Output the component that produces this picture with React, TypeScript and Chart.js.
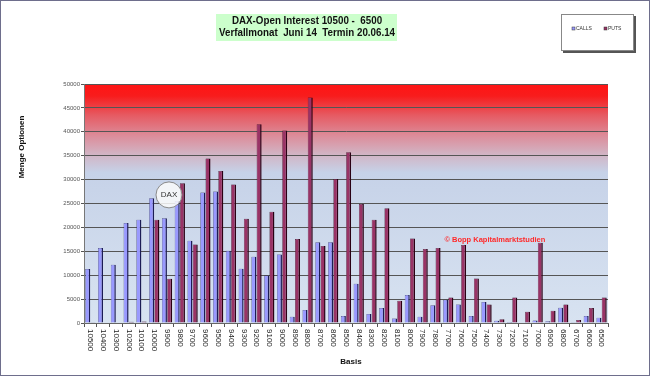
import React, { useEffect, useRef } from "react";
import { Chart, registerables } from "chart.js";

Chart.register(...registerables);

const categories = ["10500","10400","10300","10200","10100","10000","9900","9800","9700","9600","9500","9400","9300","9200","9100","9000","8900","8800","8700","8600","8500","8400","8300","8200","8100","8000","7900","7800","7700","7600","7500","7400","7300","7200","7100","7000","6900","6800","6700","6600","6500"];
const calls = [11300,15700,12200,20900,21600,26100,21900,25500,17200,27300,27500,15100,11350,13850,9950,14350,1300,2700,16900,16900,1450,8200,1900,3150,950,5850,1300,3700,4850,3850,1450,4400,450,200,0,500,350,3200,150,1450,1100];
const puts = [150,0,0,250,300,21600,9250,29250,16400,34400,31800,29000,21800,41600,23250,40250,17550,47200,16100,30100,35700,24900,21600,24000,4650,17700,15500,15700,5350,16300,9300,3850,800,5350,2350,16800,2550,3850,650,3150,5350];
const yTicks = [0,5000,10000,15000,20000,25000,30000,35000,40000,45000,50000];
const titleLines = ["DAX-Open Interest 10500 -  6500", "Verfallmonat  Juni 14  Termin 20.06.14"];
const seriesNames = ["CALLS", "PUTS"];
const daxMarker = { index: 6.15, value: 26800 };
const watermark = { text: "© Bopp Kapitalmarktstudien", index: 27.7, value: 17400 };

const decor = {
  id: "decor",
  beforeDraw(chart: any) {
    const { ctx, chartArea: a, width, height } = chart;
    ctx.save();
    ctx.fillStyle = "#ffffff";
    ctx.fillRect(0, 0, width, height);
    const g = ctx.createLinearGradient(0, a.top, 0, a.bottom);
    g.addColorStop(0, "#ff1414");
    g.addColorStop(0.05, "#f81c1c");
    g.addColorStop(0.13, "#e65a62");
    g.addColorStop(0.22, "#dc8e9c");
    g.addColorStop(0.29, "#d2b2c2");
    g.addColorStop(0.37, "#c6d2e8");
    g.addColorStop(1, "#d8e3f1");
    ctx.fillStyle = g;
    ctx.fillRect(a.left, a.top, a.right - a.left, a.bottom - a.top);
    ctx.restore();
  },
  afterDatasetsDraw(chart: any) {
    const { ctx } = chart;
    const xs = chart.scales.x, ys = chart.scales.y;
    ctx.save();
    const cx = xs.getPixelForValue(daxMarker.index);
    const cy = ys.getPixelForValue(daxMarker.value);
    ctx.beginPath();
    ctx.arc(cx, cy, 13, 0, Math.PI * 2);
    ctx.fillStyle = "rgba(250,250,250,0.85)";
    ctx.fill();
    ctx.strokeStyle = "#8a8a8a";
    ctx.lineWidth = 1;
    ctx.stroke();
    ctx.fillStyle = "#333";
    ctx.font = "8px 'Liberation Sans', Arial, sans-serif";
    ctx.textAlign = "center";
    ctx.textBaseline = "middle";
    ctx.fillText("DAX", cx, cy);
    ctx.fillStyle = "#ff2a2a";
    ctx.font = "bold 7.5px 'Liberation Sans', Arial, sans-serif";
    ctx.textAlign = "left";
    ctx.fillText(watermark.text, xs.getPixelForValue(watermark.index), ys.getPixelForValue(watermark.value));
    ctx.restore();
  },
  afterDraw(chart: any) {
    const { ctx, width, height, chartArea: a } = chart;
    const xs = chart.scales.x;
    ctx.save();
    ctx.strokeStyle = "#6e6e8c";
    ctx.lineWidth = 1;
    ctx.strokeRect(0.5, 0.5, width - 1, height - 1);
    ctx.fillStyle = "#222";
    ctx.font = "8px 'Liberation Sans', Arial, sans-serif";
    ctx.textAlign = "left";
    ctx.textBaseline = "middle";
    categories.forEach((c, i) => {
      const x = xs.getPixelForTick(i);
      ctx.save();
      ctx.translate(x, a.bottom + 6);
      ctx.rotate(Math.PI / 2);
      ctx.fillText(c, 0, 0);
      ctx.restore();
    });
    ctx.fillStyle = "#111";
    ctx.font = "bold 8px 'Liberation Sans', Arial, sans-serif";
    ctx.textAlign = "center";
    ctx.fillText("Basis", 351, 362);
    ctx.save();
    ctx.translate(22, 147);
    ctx.rotate(-Math.PI / 2);
    ctx.fillText("Menge Optionen", 0, 0);
    ctx.restore();
    // title box
    ctx.fillStyle = "#ccffcc";
    ctx.fillRect(216, 14, 181, 27);
    ctx.fillStyle = "#111";
    ctx.font = "bold 11px 'Liberation Sans', Arial, sans-serif";
    ctx.textAlign = "center";
    ctx.save();
    ctx.translate(307, 0);
    ctx.scale(0.89, 1);
    ctx.fillText(titleLines[0], 0, 21);
    ctx.fillText(titleLines[1], 0, 33);
    ctx.restore();
    // legend
    ctx.fillStyle = "#555";
    ctx.fillRect(563, 16, 73, 37);
    ctx.fillStyle = "#ffffff";
    ctx.fillRect(561, 14, 73, 37);
    ctx.strokeStyle = "#888";
    ctx.strokeRect(561.5, 14.5, 72, 36);
    ctx.font = "5px 'Liberation Sans', Arial, sans-serif";
    ctx.textAlign = "left";
    const items = [
      { x: 572, col: "#9999ff" },
      { x: 604, col: "#993366" },
    ];
    items.forEach((it, i) => {
      ctx.fillStyle = it.col;
      ctx.fillRect(it.x, 27, 3, 3);
      ctx.strokeStyle = "#333";
      ctx.lineWidth = 0.5;
      ctx.strokeRect(it.x, 27, 3, 3);
      ctx.fillStyle = "#333";
      ctx.fillText(seriesNames[i], it.x + 4, 28.5);
    });
    ctx.restore();
  },
};

export default function App() {
  const ref = useRef<HTMLCanvasElement>(null);
  useEffect(() => {
    document.body.style.margin = "0";
    const chart = new Chart(ref.current!, {
      type: "bar",
      data: {
        labels: categories,
        datasets: [
          {
            label: seriesNames[0],
            data: calls,
            backgroundColor: "#9999ff",
            borderColor: "#1c1c55",
            borderWidth: { left: 0.5, top: 0.5, right: 1.5, bottom: 0 },
            borderSkipped: false,
          },
          {
            label: seriesNames[1],
            data: puts,
            backgroundColor: "#993366",
            borderColor: "#2a0014",
            borderWidth: { left: 0.5, top: 0.5, right: 1.5, bottom: 0 },
            borderSkipped: false,
          },
        ],
      },
      options: {
        responsive: false,
        animation: false,
        layout: { padding: { top: 84, left: 0, right: 42, bottom: 0 } },
        plugins: { legend: { display: false }, tooltip: { enabled: false }, title: { display: false } },
        datasets: { bar: { categoryPercentage: 0.82, barPercentage: 0.95 } },
        scales: {
          x: {
            offset: true,
            ticks: { display: false },
            grid: { display: true, drawOnChartArea: false, drawTicks: true, tickLength: 4, color: "#555", offset: true },
            border: { display: true, color: "#666" },
            afterFit: (s: any) => { s.height = 53; },
          },
          y: {
            min: 0,
            max: 50000,
            afterBuildTicks: (s: any) => { s.ticks = yTicks.map((v) => ({ value: v })); },
            ticks: {
              padding: 1,
              color: "#555",
              font: { size: 6, family: "'Liberation Sans', Arial, sans-serif" },
              callback: (v: any) => String(v),
            },
            grid: { color: "#555", lineWidth: 1, drawTicks: true, tickLength: 3 },
            border: { display: true, color: "#777" },
            afterFit: (s: any) => { s.width = 84; },
          },
        },
      },
      plugins: [decor],
    });
    return () => chart.destroy();
  }, []);
  return <canvas ref={ref} width={650} height={376} style={{ display: "block" }} />;
}
